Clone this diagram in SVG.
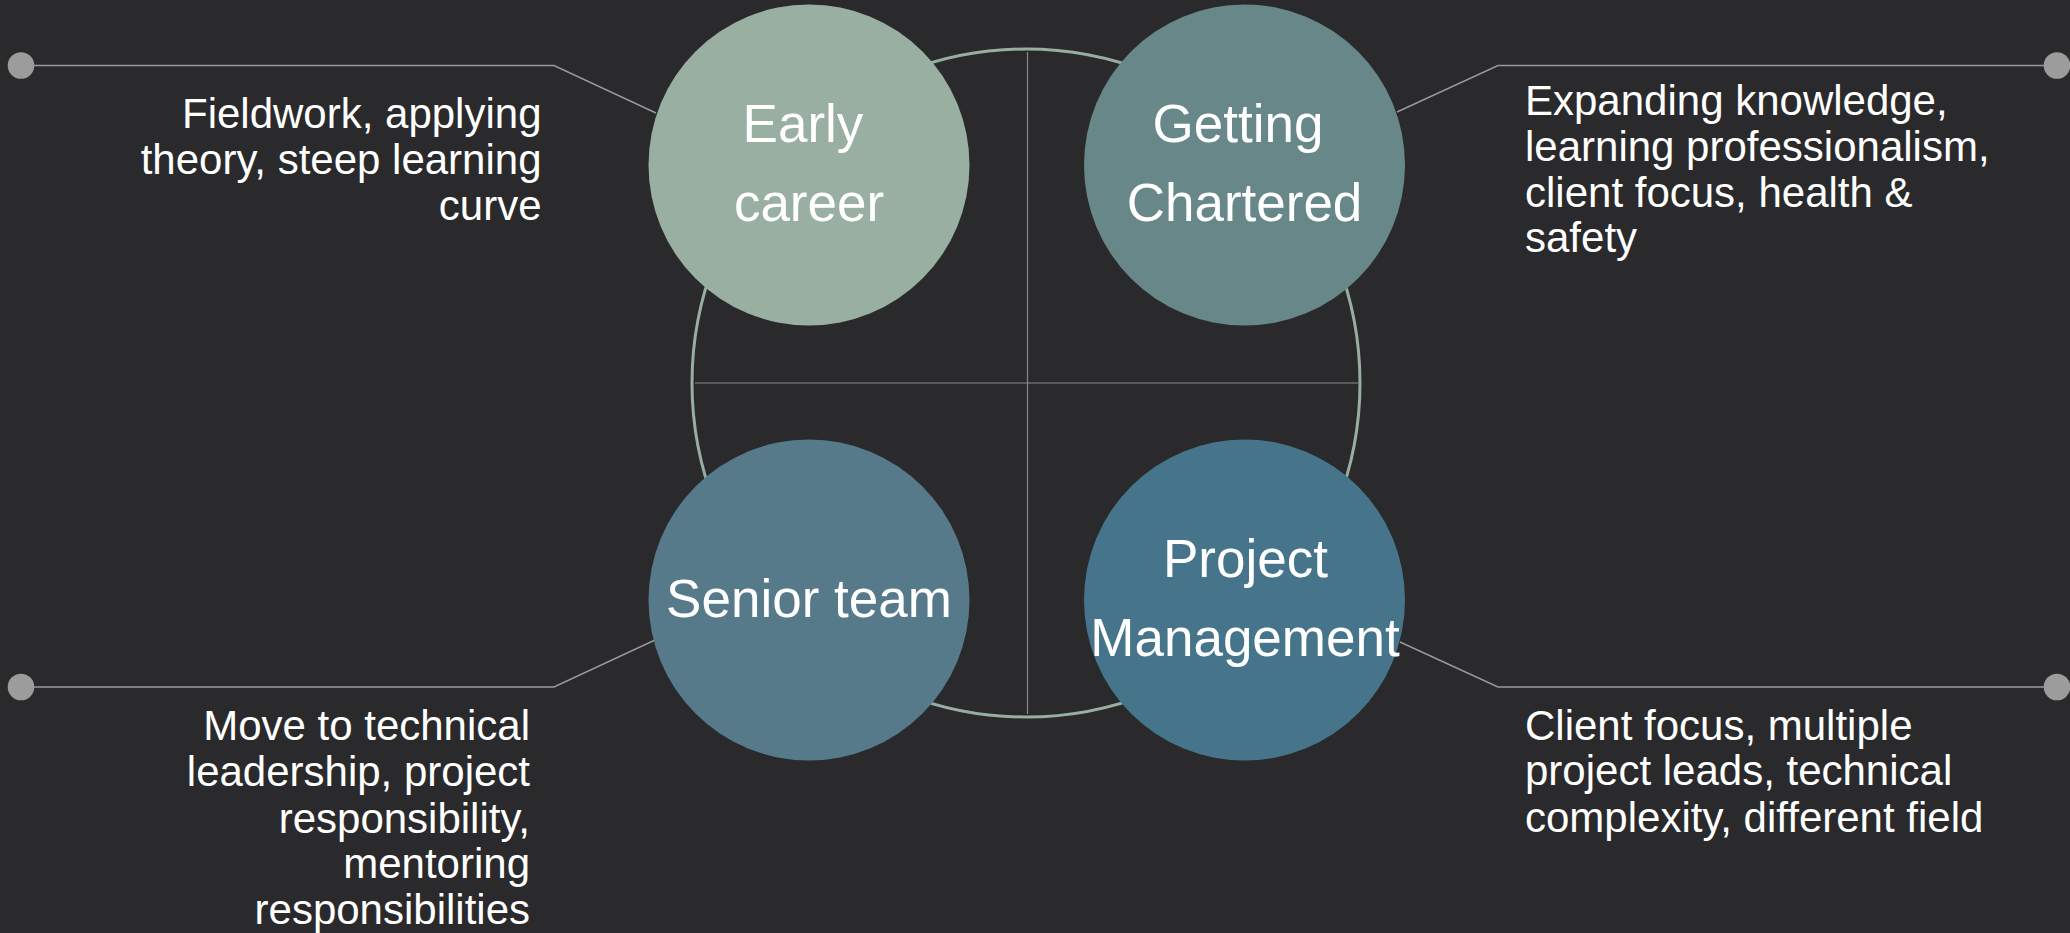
<svg xmlns="http://www.w3.org/2000/svg" width="2070" height="933" viewBox="0 0 2070 933">
<style>
.bg{fill:#2A2A2C}
.ring{fill:none;stroke:#97AFA1;stroke-width:3}
.cross{stroke:#8A8A8A;stroke-width:1.2}
.call{fill:none;stroke:#9A9A9A;stroke-width:1.4}
.dot{fill:#9C9C9C}
.lbl{font-family:"Liberation Sans",Arial,sans-serif;font-size:53px;fill:#FFFFFF;text-anchor:middle}
.desc{font-family:"Liberation Sans",Arial,sans-serif;font-size:42px;fill:#FFFFFF}
.r{text-anchor:end}
.l{text-anchor:start}
</style>
<rect class="bg" x="0" y="0" width="2070" height="933"/>
<g id="frame">
<circle class="ring" cx="1026" cy="383" r="334"/>
<line class="cross" x1="695" y1="383" x2="1358" y2="383"/>
<line class="cross" x1="1027.5" y1="52" x2="1027.5" y2="714"/>
</g>
<g id="connectors">
<polyline class="call" points="21,65.5 554,65.5 656,113"/>
<circle class="dot" cx="21" cy="65.5" r="13.3"/>
<polyline class="call" points="2057,65.5 1498,65.5 1397,112"/>
<circle class="dot" cx="2057" cy="65.5" r="13.3"/>
<polyline class="call" points="21,687 554,687 655,640"/>
<circle class="dot" cx="21" cy="687" r="13.3"/>
<polyline class="call" points="2057,687 1498,687 1400,642"/>
<circle class="dot" cx="2057" cy="687" r="13.3"/>
</g>
<g id="early-career">
<circle cx="809" cy="165" r="160.5" fill="#98AFA2"/>
<text class="lbl" x="803" y="142">Early</text>
<text class="lbl" x="809" y="221">career</text>
</g>
<g id="getting-chartered">
<circle cx="1244.5" cy="165" r="160.5" fill="#688788"/>
<text class="lbl" x="1238" y="142">Getting</text>
<text class="lbl" x="1244.5" y="221">Chartered</text>
</g>
<g id="senior-team">
<circle cx="809" cy="600" r="160.5" fill="#567A8A"/>
<text class="lbl" x="809" y="616.5">Senior team</text>
</g>
<g id="project-management">
<circle cx="1244.5" cy="600" r="160.5" fill="#46758B"/>
<text class="lbl" x="1245.5" y="576.5">Project</text>
<text class="lbl" x="1245" y="655.5">Management</text>
</g>
<g id="desc-early">
<text class="desc r" x="541.5" y="128">Fieldwork, applying</text>
<text class="desc r" x="541.5" y="173.5">theory, steep learning</text>
<text class="desc r" x="541.5" y="219.5">curve</text>
</g>
<g id="desc-chartered">
<text class="desc l" x="1525" y="115">Expanding knowledge,</text>
<text class="desc l" x="1525" y="161">learning professionalism,</text>
<text class="desc l" x="1525" y="206.5">client focus, health &amp;</text>
<text class="desc l" x="1525" y="252">safety</text>
</g>
<g id="desc-senior">
<text class="desc r" x="530" y="740">Move to technical</text>
<text class="desc r" x="530" y="786">leadership, project</text>
<text class="desc r" x="530" y="832.5">responsibility,</text>
<text class="desc r" x="530" y="878">mentoring</text>
<text class="desc r" x="530" y="924">responsibilities</text>
</g>
<g id="desc-pm">
<text class="desc l" x="1525" y="739.5">Client focus, multiple</text>
<text class="desc l" x="1525" y="785">project leads, technical</text>
<text class="desc l" x="1525" y="831.5">complexity, different field</text>
</g>
</svg>
